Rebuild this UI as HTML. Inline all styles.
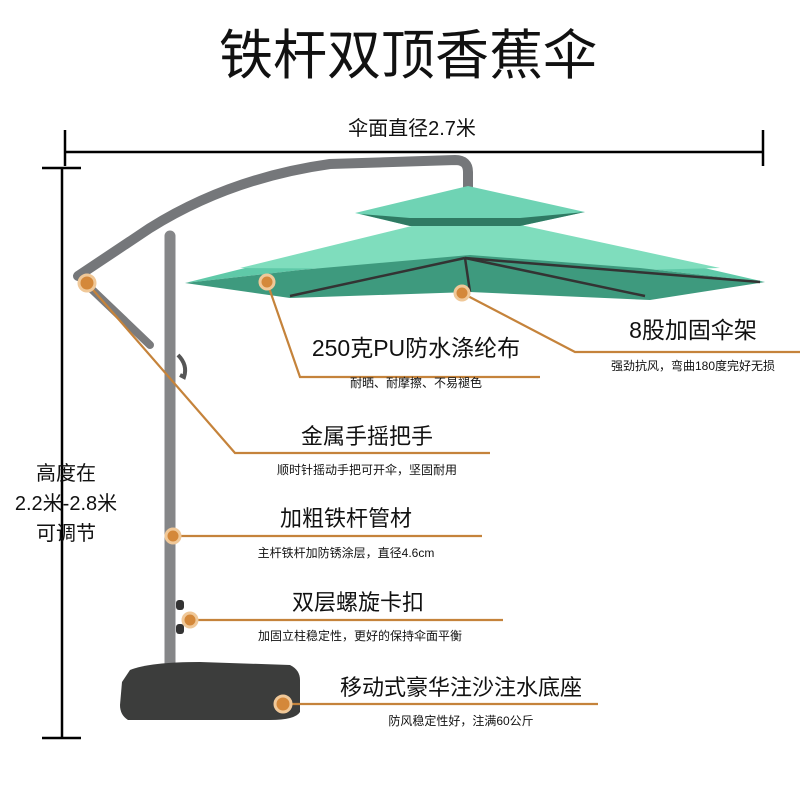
<!DOCTYPE html>
<html><head><meta charset="utf-8"><style>
html,body{margin:0;padding:0;background:#fff;}
svg{display:block;}
text{font-family:"Liberation Sans","Noto Sans CJK SC",sans-serif;fill:#111;}
</style></head><body>
<svg width="800" height="800" viewBox="0 0 800 800" xmlns="http://www.w3.org/2000/svg">
<text x="408" y="74" font-size="54" text-anchor="middle">铁杆双顶香蕉伞</text>
<text x="412" y="135" font-size="20" text-anchor="middle">伞面直径2.7米</text>
<g stroke="#000" stroke-width="2.5" fill="none">
<line x1="65" y1="152" x2="763" y2="152"/>
<line x1="65" y1="130" x2="65" y2="166"/>
<line x1="763" y1="130" x2="763" y2="166"/>
<line x1="62" y1="168" x2="62" y2="738"/>
<line x1="42" y1="168" x2="81" y2="168"/>
<line x1="42" y1="738" x2="81" y2="738"/>
</g>
<rect x="30" y="455" width="70" height="90" fill="#fff"/>
<line x1="62" y1="455" x2="62" y2="545" stroke="#000" stroke-width="2.5"/>
<text x="66" y="480" font-size="20" text-anchor="middle">高度在</text>
<text x="66" y="510" font-size="20" text-anchor="middle">2.2米-2.8米</text>
<text x="66" y="540" font-size="20" text-anchor="middle">可调节</text>
<!-- umbrella frame -->
<g fill="none" stroke-linecap="round">
<path d="M78 276 L150 228 Q230 178 330 164 L455 160 Q468 160 468 172 L468 188" stroke="#75777a" stroke-width="10"/>
<path d="M82 280 L150 345" stroke="#7a7b7d" stroke-width="8"/>
<line x1="170" y1="236" x2="170" y2="690" stroke="#858688" stroke-width="11"/>
</g>
<path d="M178 355 q10 10 6 22 l-4 -2" stroke="#555" stroke-width="4" fill="none"/>
<rect x="176" y="600" width="8" height="10" rx="3" fill="#333"/>
<rect x="176" y="624" width="8" height="10" rx="3" fill="#333"/>
<!-- canopy -->
<polygon points="185,283 465,213 765,282 640,268 470,255 300,270" fill="#5fc9a8"/>
<polygon points="240,268 465,213 720,268 640,270" fill="#7fddbd"/>
<polygon points="185,283 300,270 470,255 640,268 765,282 650,300 470,292 290,298" fill="#3e9a7e"/>
<polygon points="355,213 468,186 585,212 520,226 410,226" fill="#6fd3b4"/>
<polygon points="360,214 410,226 520,226 585,212 520,218 410,218" fill="#2f7a63"/>
<g stroke="#333" stroke-width="2.5">
<line x1="465" y1="258" x2="290" y2="296"/>
<line x1="465" y1="258" x2="645" y2="296"/>
<line x1="465" y1="258" x2="470" y2="292"/>
<line x1="465" y1="258" x2="760" y2="282"/>
</g>
<!-- base -->
<path d="M130 670 Q150 662 200 662 L290 665 Q300 670 300 680 L300 712 Q295 720 270 720 L128 720 Q120 715 120 705 L122 682 Z" fill="#3c3d3c"/>
<!-- leaders -->
<g stroke="#c5833b" stroke-width="2.2" fill="none">
<polyline points="267,282 300,377 540,377"/>
<polyline points="462,293 575,352 800,352"/>
<polyline points="87,283 235,453 490,453"/>
<line x1="172" y1="536" x2="482" y2="536"/>
<line x1="190" y1="620" x2="503" y2="620"/>
<line x1="283" y1="704" x2="598" y2="704"/>
</g>
<g fill="#d4883a" stroke="#f0c898" stroke-width="3">
<circle cx="267" cy="282" r="7"/>
<circle cx="462" cy="293" r="7"/>
<circle cx="87" cy="283" r="8"/>
<circle cx="173" cy="536" r="7"/>
<circle cx="190" cy="620" r="7"/>
<circle cx="283" cy="704" r="8"/>
</g>
<text x="416" y="356" font-size="23" text-anchor="middle">250克PU防水涤纶布</text>
<text x="416" y="387" font-size="12" text-anchor="middle">耐晒、耐摩擦、不易褪色</text>
<text x="693" y="338" font-size="23" text-anchor="middle">8股加固伞架</text>
<text x="693" y="370" font-size="12" text-anchor="middle">强劲抗风，弯曲180度完好无损</text>
<text x="367" y="444" font-size="22" text-anchor="middle">金属手摇把手</text>
<text x="367" y="474" font-size="12" text-anchor="middle">顺时针摇动手把可开伞，坚固耐用</text>
<text x="346" y="526" font-size="22" text-anchor="middle">加粗铁杆管材</text>
<text x="346" y="557" font-size="12" text-anchor="middle">主杆铁杆加防锈涂层，直径4.6cm</text>
<text x="358" y="610" font-size="22" text-anchor="middle">双层螺旋卡扣</text>
<text x="360" y="640" font-size="12" text-anchor="middle">加固立柱稳定性，更好的保持伞面平衡</text>
<text x="461" y="695" font-size="22" text-anchor="middle">移动式豪华注沙注水底座</text>
<text x="461" y="725" font-size="12" text-anchor="middle">防风稳定性好，注满60公斤</text>
</svg>
</body></html>
